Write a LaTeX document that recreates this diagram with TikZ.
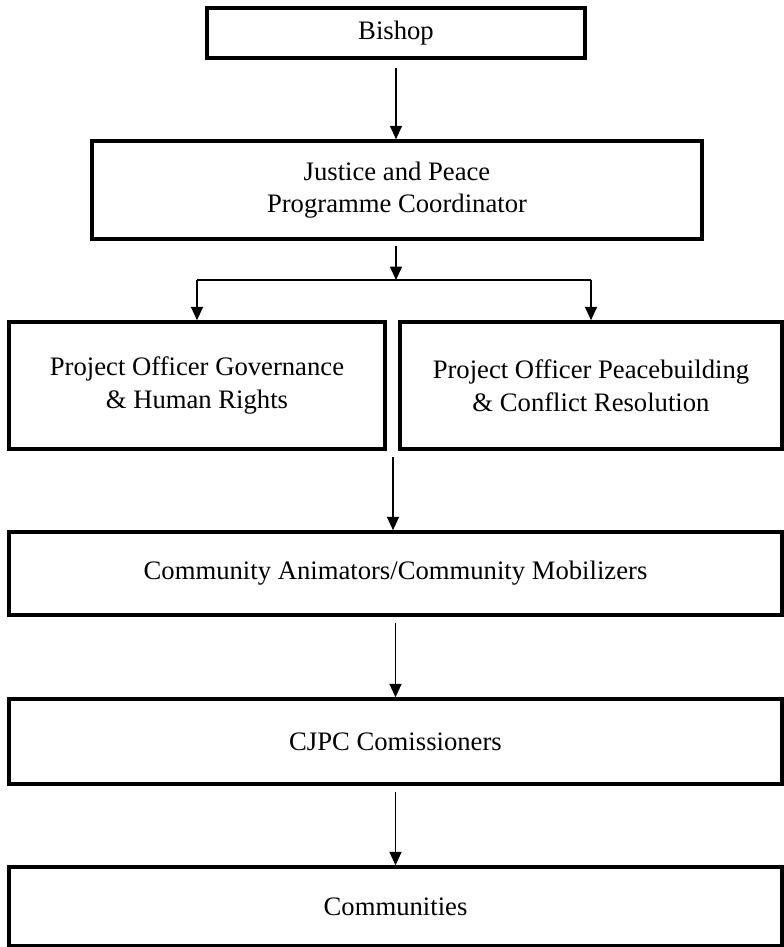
\documentclass[tikz,border=0pt]{standalone}
\usepackage{fontspec}
\setmainfont{Liberation Serif}
\usetikzlibrary{arrows.meta}
\begin{document}
\begin{tikzpicture}[x=0.75pt,y=-0.75pt,
  box/.style={draw=black, line width=2.7pt, rectangle, inner sep=0pt, align=center,
    font=\fontsize{20}{24.4}\selectfont},
  arr/.style={line width=1pt, -{Triangle[length=10pt,width=9pt]}},
  conn/.style={line width=1pt}]
\useasboundingbox (0,0) rectangle (784,947);
\node[box, minimum width=283.5pt, minimum height=37.5pt] (bishop) at (396,33) {Bishop};
\node[box, minimum width=457.5pt, minimum height=73.5pt] (jp) at (397,190) {Justice and Peace\\Programme Coordinator};
\node[box, minimum width=282pt, minimum height=95.25pt] (po1) at (197,385.5) {Project Officer Governance\\\&~Human Rights};
\node[box, minimum width=286.5pt, minimum height=95.25pt] (po2) at (591,385.5) {Project Officer Peacebuilding\\\&~Conflict Resolution};
\node[box, minimum width=579.75pt, minimum height=62.25pt] (ca) at (395.5,573.5) {Community Animators/Community Mobilizers};
\node[box, minimum width=579.75pt, minimum height=63.75pt] (cjpc) at (395.5,741.5) {CJPC Comissioners};
\node[box, minimum width=579.75pt, minimum height=58.9pt] (comm) at (395.5,906.3) {Communities};
\coordinate (br) at (396,280);
\coordinate (gap) at (393,457);
\draw[arr] ([yshift=-6.5pt]bishop.south) -- (bishop.south |- jp.north);
\draw[arr] ([yshift=-4pt]jp.south -| br) -- (br);
\draw[conn] (po1.north |- br) -- (po2.north |- br);
\draw[arr] (po1.north |- br) -- (po1.north);
\draw[arr] (po2.north |- br) -- (po2.north);
\draw[arr] (gap) -- (gap |- ca.north);
\draw[arr] ([yshift=-5pt]ca.south) -- (ca.south |- cjpc.north);
\draw[arr] ([yshift=-5pt]cjpc.south) -- (cjpc.south |- comm.north);
\end{tikzpicture}
\end{document}
